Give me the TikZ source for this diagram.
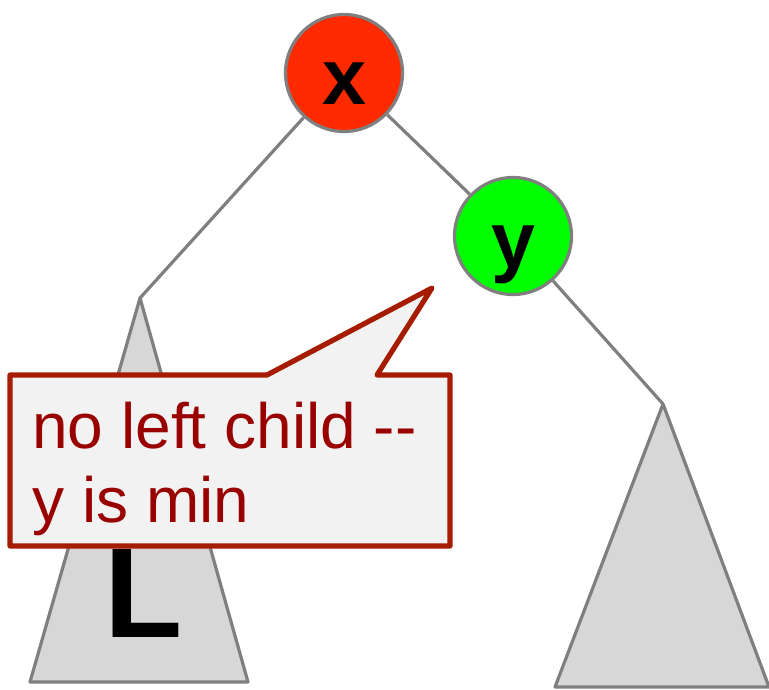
\documentclass[tikz,border=0pt]{standalone}
\usepackage{xcolor}
\usepackage{fontspec}
\setmainfont{Liberation Sans}
\usepackage{tikz}
\usetikzlibrary{positioning}
\definecolor{xred}{HTML}{FF2A00}
\definecolor{ygreen}{HTML}{00FF00}
\definecolor{edgegray}{HTML}{7F7F7F}
\definecolor{treegray}{HTML}{D7D7D7}
\definecolor{noteborder}{HTML}{A61C00}
\definecolor{notefill}{HTML}{F2F2F2}
\definecolor{notetext}{HTML}{990000}
\tikzset{
  treenode/.style={draw=edgegray, circle, line width=1.6pt, minimum size=58.5pt, inner sep=0pt,
    text height=32pt, text depth=0pt, font=\fontsize{39.5}{40}\selectfont\bfseries},
  subtree/.style={draw=edgegray, fill=treegray, line width=1.6pt, line join=round},
  branch/.style={draw=edgegray, line width=1.6pt},
  balloon/.style={draw=noteborder, fill=notefill, line width=2.6pt, line join=round},
  balloontext/.style={text=notetext, align=left, inner sep=0pt, font=\fontsize{32}{37}\selectfont}
}

\begin{document}
\begin{tikzpicture}[x=0.5pt, y=-0.5pt]
        \useasboundingbox (0,0) rectangle (769,689);

        % Tree nodes
        \node[treenode, fill=xred]   (x) at (344,73)  {x};
        \node[treenode, fill=ygreen] (y) at (513,236) {y};

        % Subtree tops
        \coordinate (ltop) at (140,298);
        \coordinate (rtop) at (663,404);

        % Branches
        \draw[branch] (x) -- (ltop);
        \draw[branch] (x) -- (y);
        \draw[branch] (y) -- (rtop);

        % Subtrees
        \draw[subtree] (ltop) -- (30,682) -- (248,682) -- cycle;
        \draw[subtree] (rtop) -- (555,687) -- (769,687) -- cycle;
        \node[anchor=base, inner sep=0pt, font=\fontsize{64}{64}\selectfont\bfseries] (lname) at (144,637) {L};

        % Callout
        \draw[balloon] (10,375) -- (267,375) -- (432,288) -- (377,375) -- (450,375)
          -- (450,546) -- (10,546) -- cycle;
        \node[balloontext, anchor=base west] (note) at (32,522) {no left child -{}-\\y is min};
    \end{tikzpicture}
\end{document}
